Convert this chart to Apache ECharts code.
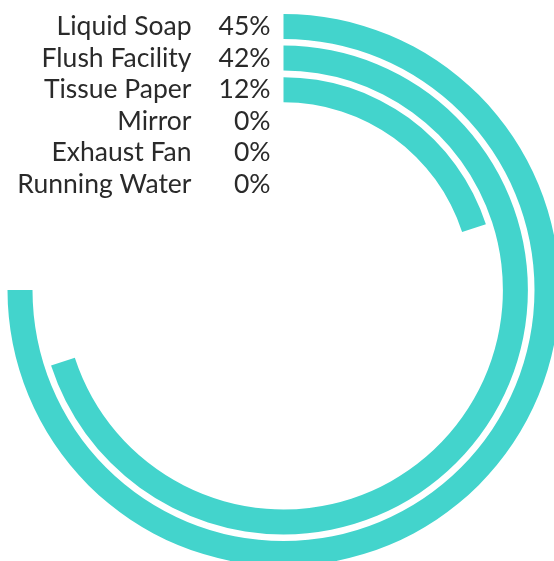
<!DOCTYPE html>
<html>
<head>
<meta charset="utf-8">
<script src="https://cdn.jsdelivr.net/npm/echarts@6/dist/echarts.min.js"></script>
<style>
html,body{margin:0;padding:0;background:#fff;}
#c{width:554px;height:561px;}
</style>
</head>
<body>
<div id="c"></div>
<script>
// categories from outermost ring to innermost
const categories = ['Liquid Soap', 'Flush Facility', 'Tissue Paper', 'Mirror', 'Exhaust Fan', 'Running Water'];
const values = [45, 42, 12, 0, 0, 0];
const maxValue = 60;

const chart = echarts.init(document.getElementById('c'));
const cats = categories.slice().reverse();
const vals = values.slice().reverse();
chart.setOption({
  animation: false,
  polar: { center: [283.5, 290], radius: [89.7, 279.3] },
  angleAxis: {
    type: 'value', min: 0, max: maxValue, startAngle: 90, clockwise: true,
    axisLine: { show: false }, axisTick: { show: false }, axisLabel: { show: false }, splitLine: { show: false }
  },
  radiusAxis: {
    type: 'category', data: cats,
    axisLine: { show: false }, axisTick: { show: false }, splitLine: { show: false },
    axisLabel: {
      show: true, interval: 0, margin: 13,
      formatter: function (v, i) { return '{n|' + v + '}{p|' + vals[i] + '%}'; },
      rich: {
        n: { width: 175, align: 'right', fontSize: 26.5, fontFamily: 'Lato', color: '#2a2a2a' },
        p: { width: 79, align: 'right', fontSize: 26.5, fontFamily: 'Lato', color: '#2a2a2a' }
      }
    }
  },
  series: [{
    type: 'bar', coordinateSystem: 'polar', data: vals, barWidth: 25,
    itemStyle: { color: '#43d4cc' }
  }]
});
</script>
</body>
</html>
